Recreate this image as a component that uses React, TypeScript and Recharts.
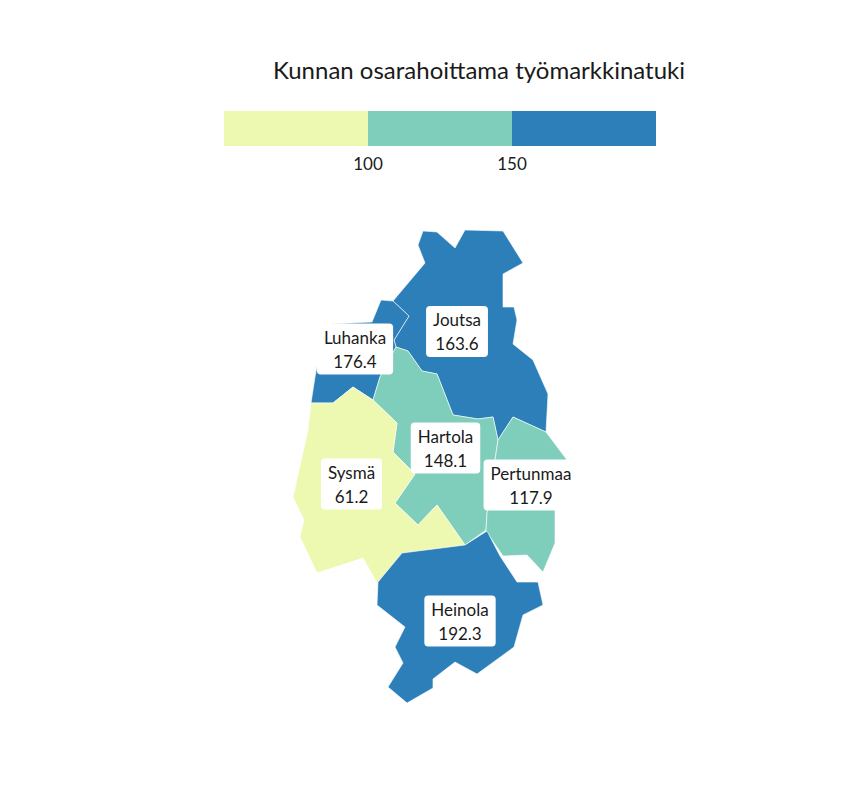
import React from 'react';
import { ScatterChart, Scatter, XAxis, YAxis, BarChart, Bar, Polygon } from 'recharts';

// legend
const legendTitle = 'Kunnan osarahoittama työmarkkinatuki';
const classBreaks = [100, 150];
const legendBounds = [50, 100, 150, 200];
const classColors = ['#edf8b1', '#7fcdbb', '#2c7fb8'];

// municipalities
const regionNames = ['Joutsa', 'Luhanka', 'Hartola', 'Sysmä', 'Pertunmaa', 'Heinola'];
const regionValues = [163.6, 176.4, 148.1, 61.2, 117.9, 192.3];
const labelX = [457, 355, 445.5, 351.5, 531, 460];
const labelY = [331.5, 349, 448, 484, 485, 621];

// outlines in map units
const joutsaShape = [
  [423, 231], [437, 232], [455, 248], [465, 230], [503, 231], [523, 263], [503, 274], [503, 307],
  [514, 307], [517, 320], [513, 344], [533, 360], [548, 394], [546, 432], [513, 417], [498, 440],
  [493, 417], [478, 419], [453, 415], [437, 374], [422, 371], [408, 351], [396, 347], [394, 340],
  [409, 316], [393, 301], [425, 263], [418, 245],
];
const luhankaShape = [
  [381, 300], [393, 301], [409, 316], [394, 340], [396, 347], [380, 377], [373, 400], [353, 387],
  [333, 403], [311, 403], [315, 377], [320, 350], [330, 324], [372, 322],
];
const hartolaShape = [
  [396, 347], [408, 351], [422, 371], [437, 374], [453, 415], [478, 419], [493, 417], [498, 440],
  [495, 460], [487, 513], [486, 530], [465, 545], [437, 505], [418, 525], [395, 503], [415, 474],
  [393, 452], [397, 423], [373, 400], [380, 377],
];
const sysmaShape = [
  [311, 403], [333, 403], [353, 387], [373, 400], [397, 423], [393, 452], [415, 474], [395, 503],
  [418, 525], [437, 505], [465, 545], [402, 553], [378, 582], [377, 583], [363, 558], [317, 573],
  [300, 537], [304, 520], [293, 497], [308, 430],
];
const pertunmaaShape = [
  [513, 417], [546, 432], [567, 460], [555, 510], [555, 543], [543, 572], [527, 555], [503, 556],
  [486, 531], [487, 513], [495, 460], [498, 440],
];
const heinolaShape = [
  [465, 545], [487, 531], [500, 556], [517, 582], [538, 582], [543, 605], [523, 615], [514, 647],
  [477, 674], [455, 662], [433, 679], [433, 688], [407, 703], [388, 687], [403, 663], [395, 647],
  [405, 627], [377, 605], [378, 582], [402, 553],
];
const regionShapes = [joutsaShape, luhankaShape, hartolaShape, sysmaShape, pertunmaaShape, heinolaShape];

const FONT = 'Lato, sans-serif';
const TEXT = '#1a1a1a';
const LABEL_SIZE = 17;

function colorFor(v: number) {
  const k = classBreaks.filter((b) => v >= b).length;
  return classColors[k];
}

let ctx: CanvasRenderingContext2D | null = null;
function textWidth(s: string) {
  if (!ctx) ctx = document.createElement('canvas').getContext('2d');
  if (!ctx) return s.length * 9;
  ctx.font = `${LABEL_SIZE}px ${FONT}`;
  return ctx.measureText(s).width;
}

const LabelBox = (props: any) => {
  const { cx, cy, payload } = props;
  const valueText = payload.value.toFixed(1);
  const w = Math.max(textWidth(payload.name), textWidth(valueText)) + 14;
  const h = 51;
  return (
    <g>
      <rect x={cx - w / 2} y={cy - h / 2} width={w} height={h} rx={4} ry={4} fill="#fff" />
      <text x={cx} y={cy - 12} textAnchor="middle" dominantBaseline="central" fontSize={LABEL_SIZE} fontFamily={FONT} fill={TEXT}>
        {payload.name}
      </text>
      <text x={cx} y={cy + 12} textAnchor="middle" dominantBaseline="central" fontSize={LABEL_SIZE} fontFamily={FONT} fill={TEXT}>
        {valueText}
      </text>
    </g>
  );
};

const noPoint = () => <g />;

export default function App() {
  const legendRow: Record<string, any> = { name: 'legend', base: legendBounds[0] };
  classColors.forEach((_, i) => {
    legendRow[`c${i}`] = legendBounds[i + 1] - legendBounds[i];
  });

  const labels = regionNames.map((name, i) => ({ x: labelX[i], y: labelY[i], name, value: regionValues[i] }));

  return (
    <div style={{ position: 'absolute', left: 0, top: 0, width: 864, height: 792, background: '#fff', fontFamily: FONT }}>
      <div
        style={{
          position: 'absolute',
          left: 0,
          top: 55,
          width: 958,
          textAlign: 'center',
          fontSize: 24,
          color: TEXT,
          lineHeight: '30px',
        }}
      >
        {legendTitle}
      </div>
      <div style={{ position: 'absolute', left: 0, top: 0 }}>
        <BarChart
          width={864}
          height={200}
          layout="vertical"
          data={[legendRow]}
          margin={{ top: 111, right: 208, bottom: 0, left: 224 }}
          barCategoryGap={0}
        >
          <XAxis
            type="number"
            domain={[legendBounds[0], legendBounds[legendBounds.length - 1]]}
            allowDataOverflow
            ticks={classBreaks}
            axisLine={false}
            tickLine={false}
            tickMargin={6}
            height={54}
            tick={{ fontSize: LABEL_SIZE, fill: TEXT, fontFamily: FONT }}
          />
          <YAxis type="category" dataKey="name" hide />
          <Bar dataKey="base" stackId="l" fill="transparent" isAnimationActive={false} />
          {classColors.map((c, i) => (
            <Bar key={c} dataKey={`c${i}`} stackId="l" fill={c} isAnimationActive={false} />
          ))}
        </BarChart>
      </div>
      <div style={{ position: 'absolute', left: 0, top: 0 }}>
        <ScatterChart width={864} height={792} margin={{ top: 0, right: 0, bottom: 0, left: 0 }}>
          <XAxis type="number" dataKey="x" domain={[0, 864]} hide />
          <YAxis type="number" dataKey="y" domain={[0, 792]} reversed hide />
          {regionShapes.map((shape, i) => (
            <Scatter
              key={regionNames[i]}
              data={shape.map(([x, y]) => ({ x, y }))}
              shape={noPoint}
              line={(p: any) => (
                <Polygon points={p.points} fill={colorFor(regionValues[i])} stroke="#fff" strokeWidth={0.6} />
              )}
              isAnimationActive={false}
            />
          ))}
          <Scatter data={labels} shape={LabelBox} isAnimationActive={false} />
        </ScatterChart>
      </div>
    </div>
  );
}
